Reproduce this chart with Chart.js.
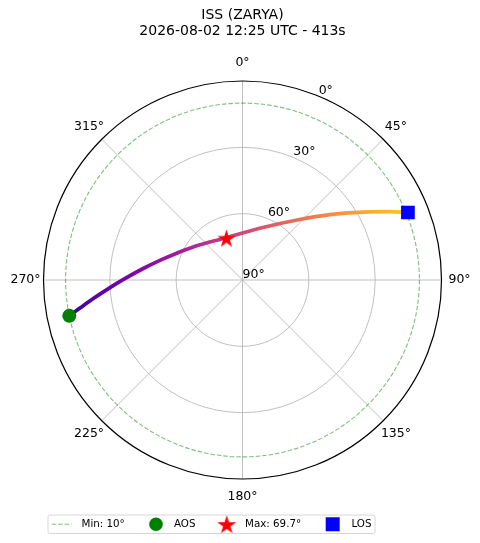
<!DOCTYPE html>
<html><head><meta charset="utf-8">
<script src="https://cdn.jsdelivr.net/npm/chart.js@4.4.1/dist/chart.umd.min.js"></script>
<style>html,body{margin:0;padding:0;background:#fff}</style>
</head><body>
<canvas id="c" width="480" height="543" style="width:480px;height:543px;display:block"></canvas>
<script>
// ---------- data ----------
const TITLE = ['ISS (ZARYA)', '2026-08-02 12:25 UTC - 413s'];
const TRACK_AZ = [258.3, 260.2, 262.9, 266.7, 269.8, 276.6, 283.4, 292.2, 306.8, 338.9, 21.3, 42.3, 53.2, 60.6, 65.1, 67.8];
const TRACK_EL = [10.0, 15.4, 22.0, 30.0, 35.4, 44.8, 51.6, 57.9, 64.1, 69.5, 64.5, 53.3, 40.6, 27.4, 16.5, 9.2];
const AOS_AZ = 258.3, AOS_EL = 10.0;
const MAX_AZ = 339.0, MAX_EL = 69.7;
const LOS_AZ = 67.8, LOS_EL = 9.2;
const MIN_EL = 10;
const AZ_TICKS = [0, 45, 90, 135, 180, 225, 270, 315];
const EL_TICKS = [0, 30, 60, 90];
const EL_RINGS = [30, 60];
const LEGEND_LABELS = ['Min: 10°', 'AOS', 'Max: 69.7°', 'LOS'];

// ---------- helpers ----------
function toXY(az, el) {
  const r = 90 - el, a = az * Math.PI / 180;
  return { x: r * Math.sin(a), y: r * Math.cos(a) };
}
const trackPts = TRACK_AZ.map((az, i) => toXY(az, TRACK_EL[i]));
const PLASMA = ['#3c059b','#6a00a8','#8f0da4','#b12a90','#cc4778','#e16462','#f2844b','#fca636','#fcc52a'];
const FONT = "'DejaVu Sans', sans-serif";

function makeStar(R, color) {
  const s = Math.ceil(R * 2 + 2);
  const c = document.createElement('canvas'); c.width = s; c.height = s;
  const g = c.getContext('2d'); g.translate(s / 2, s / 2 + R * 0.1);
  g.beginPath();
  const ri = R * 0.382;
  for (let i = 0; i < 10; i++) {
    const a = -Math.PI / 2 + i * Math.PI / 5, r = (i % 2) ? ri : R;
    g.lineTo(r * Math.cos(a), r * Math.sin(a));
  }
  g.closePath(); g.fillStyle = color; g.fill();
  return c;
}
const starImg = makeStar(9.5, '#ff0000');
const starLegend = makeStar(10, '#ff0000');

const polarGrid = {
  id: 'polarGrid',
  beforeDatasetsDraw(chart) {
    const { ctx, scales: { x, y } } = chart;
    const cx = x.getPixelForValue(0), cy = y.getPixelForValue(0);
    const rp = r => x.getPixelForValue(r) - cx;
    const R = rp(90);
    ctx.save();
    ctx.strokeStyle = '#b0b0b0'; ctx.lineWidth = 0.8;
    for (const el of EL_RINGS) { ctx.beginPath(); ctx.arc(cx, cy, rp(90 - el), 0, 2 * Math.PI); ctx.stroke(); }
    for (const az of AZ_TICKS) {
      const a = az * Math.PI / 180;
      ctx.beginPath(); ctx.moveTo(cx, cy);
      ctx.lineTo(cx + R * Math.sin(a), cy - R * Math.cos(a)); ctx.stroke();
    }
    // min elevation ring
    ctx.strokeStyle = 'rgba(0,128,0,0.5)'; ctx.lineWidth = 1.1; ctx.setLineDash([4.5, 2]);
    ctx.beginPath(); ctx.arc(cx, cy, rp(90 - MIN_EL), 0, 2 * Math.PI); ctx.stroke();
    ctx.setLineDash([]);
    // outer spine
    ctx.strokeStyle = '#000'; ctx.lineWidth = 1.2;
    ctx.beginPath(); ctx.arc(cx, cy, R, 0, 2 * Math.PI); ctx.stroke();
    // azimuth labels
    ctx.fillStyle = '#000'; ctx.font = '12.5px ' + FONT;
    ctx.textAlign = 'center'; ctx.textBaseline = 'middle';
    for (const az of AZ_TICKS) {
      const a = az * Math.PI / 180, rr = R + 18;
      ctx.fillText(az + '°', cx + rr * Math.sin(a), cy - rr * Math.cos(a));
    }
    // elevation labels at 22.5°
    ctx.textAlign = 'left'; ctx.textBaseline = 'alphabetic';
    const la = 22.5 * Math.PI / 180;
    for (const el of EL_TICKS) {
      const rr = rp(90 - el);
      ctx.fillText(el + '°', cx + rr * Math.sin(la), cy - rr * Math.cos(la) - 2.5);
    }
    ctx.restore();
  },
  afterDraw(chart) {
    const ctx = chart.ctx;
    ctx.save();
    const bx = 48, by = 515, bw = 327, bh = 18.5, cyL = by + bh / 2;
    ctx.fillStyle = 'rgba(255,255,255,0.8)'; ctx.strokeStyle = '#d6d6d6'; ctx.lineWidth = 1;
    ctx.beginPath();
    if (ctx.roundRect) ctx.roundRect(bx, by, bw, bh, 2); else ctx.rect(bx, by, bw, bh);
    ctx.fill(); ctx.stroke();
    const handles = [61.7, 156, 226.7, 332.7];
    const texts = [81.5, 174, 245, 351.5];
    // dashed line
    ctx.strokeStyle = 'rgba(0,128,0,0.5)'; ctx.setLineDash([4.5, 2]); ctx.lineWidth = 1.1;
    ctx.beginPath(); ctx.moveTo(handles[0] - 10, cyL); ctx.lineTo(handles[0] + 10, cyL); ctx.stroke();
    ctx.setLineDash([]);
    // circle
    ctx.fillStyle = '#008000'; ctx.beginPath(); ctx.arc(handles[1], cyL, 6.8, 0, 2 * Math.PI); ctx.fill();
    // star
    ctx.drawImage(starLegend, handles[2] - starLegend.width / 2, cyL - starLegend.height / 2);
    // square
    ctx.fillStyle = '#0000ff'; ctx.fillRect(handles[3] - 7, cyL - 7, 14, 14);
    ctx.fillStyle = '#000'; ctx.font = '10.3px ' + FONT; ctx.textAlign = 'left'; ctx.textBaseline = 'middle';
    LEGEND_LABELS.forEach((t, i) => ctx.fillText(t, texts[i], cyL));
    ctx.restore();
  }
};

new Chart(document.getElementById('c'), {
  type: 'scatter',
  data: {
    datasets: [
      { label: 'AOS', data: [toXY(AOS_AZ, AOS_EL)], pointStyle: 'circle', pointRadius: 7,
        backgroundColor: '#008000', borderColor: '#008000', borderWidth: 0, order: 0 },
      { label: 'Max', data: [toXY(MAX_AZ, MAX_EL)], pointStyle: starImg, pointRadius: 9.5,
        backgroundColor: '#ff0000', borderColor: '#ff0000', order: 0 },
      { label: 'LOS', data: [toXY(LOS_AZ, LOS_EL)], pointStyle: 'rect', pointRadius: 9.7,
        backgroundColor: '#0000ff', borderColor: '#0000ff', borderWidth: 0, order: 0 },
      { label: 'Track', data: trackPts, showLine: true, pointRadius: 0, borderWidth: 3.7,
        cubicInterpolationMode: 'monotone', order: 10,
        borderColor(c) {
          const ch = c.chart, sx = ch.scales.x;
          if (!ch.chartArea || !sx) return '#cc4778';
          const x0 = sx.getPixelForValue(trackPts[0].x), x1 = sx.getPixelForValue(trackPts[trackPts.length - 1].x);
          const g = ch.ctx.createLinearGradient(x0, 0, x1, 0);
          PLASMA.forEach((col, i) => g.addColorStop(i / (PLASMA.length - 1), col));
          return g;
        } }
    ]
  },
  options: {
    responsive: false, animation: false, events: [],
    layout: { padding: { left: 43.5, right: 38.5, top: 0, bottom: 64 } },
    scales: {
      x: { type: 'linear', min: -90, max: 90, display: false },
      y: { type: 'linear', min: -90, max: 90, display: false }
    },
    plugins: {
      legend: { display: false }, tooltip: { enabled: false },
      title: { display: true, text: TITLE, color: '#000',
        font: { family: FONT, size: 14, weight: 'normal', lineHeight: 1.2 },
        padding: { top: 6.5, bottom: 40.9 } }
    }
  },
  plugins: [polarGrid]
});
</script>
</body></html>
